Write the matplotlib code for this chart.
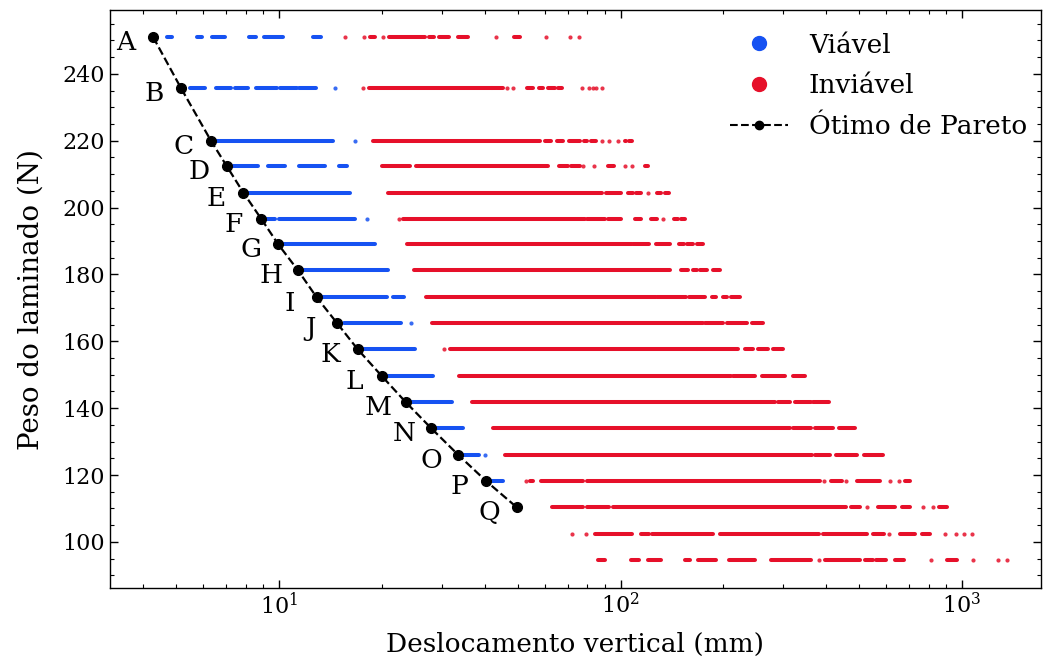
import matplotlib
matplotlib.use('Agg')
import matplotlib.pyplot as plt
from matplotlib.lines import Line2D
from matplotlib.ticker import MultipleLocator

plt.rcParams['font.family'] = 'DejaVu Serif'
plt.rcParams['mathtext.fontset'] = 'dejavuserif'
plt.rcParams['font.size'] = 14

# peso de cada nivel de laminado (N)
peso_linhas = [251.0, 235.8, 220.0, 212.5, 204.5, 196.7, 189.0, 181.2, 173.1, 165.4,
               157.6, 149.6, 141.8, 134.0, 126.0, 118.2, 110.4, 102.4, 94.6]

# trechos (inicio, fim) de deslocamento em mm ocupados pelas solucoes de cada nivel
viavel_trechos = [
    [(4.70, 4.86), (5.75, 5.95), (6.36, 6.94), (8.17, 8.56), (9.04, 10.27), (12.6, 13.3)],
    [(5.49, 6.07), (6.54, 7.24), (7.44, 8.11), (8.56, 9.87), (10.1, 11.3), (11.44, 12.8), (14.6, 14.6)],
    [(6.45, 14.4), (16.7, 16.7)],
    [(7.33, 8.66), (9.28, 10.4), (11.44, 13.6), (15.0, 15.8)],
    [(7.9, 16.1)],
    [(8.98, 9.74), (10.0, 16.7), (18.1, 18.1)],
    [(10.3, 19.1)],
    [(11.7, 20.9)],
    [(13.4, 20.7), (21.6, 23.2)],
    [(15.5, 22.8), (24.4, 24.4)],
    [(17.6, 25.0)],
    [(20.4, 28.2)],
    [(24.2, 32.1)],
    [(28.2, 34.6)],
    [(34.4, 38.5), (40.2, 40.2)],
    [(41.5, 45.3)],
    [],
    [],
    [],
]

inviavel_trechos = [
    [(15.6, 15.6), (17.7, 17.7), (18.5, 19.1), (20.2, 20.2), (21.0, 26.8), (27.5, 28.4),
     (29.4, 31.4), (33.5, 35.8), (43.1, 43.1), (48.9, 50.8), (60.4, 60.4), (71.3, 71.3), (75.6, 75.6)],
    [(17.6, 17.6), (18.3, 42.0), (42.0, 45.3), (46.6, 46.6), (48.3, 48.3), (53.2, 55.4), (57.7, 59.3),
     (61.4, 64.4), (65.7, 67.4), (77.2, 77.2), (80.7, 80.7), (82.9, 82.9), (85.0, 85.0), (88.3, 88.3)],
    [(18.8, 58.1), (60.2, 62.5), (65.0, 67.9), (70.6, 76.0), (78.0, 80.0), (82.0, 85.0),
     (88.3, 88.3), (92.6, 92.6), (98.0, 98.0), (103, 104), (106, 108)],
    [(20.0, 24.2), (25.2, 61.4), (66.2, 70.0), (71.5, 76.1), (77.7, 77.7), (83.5, 83.5),
     (91.9, 95.9), (103, 103), (108, 108), (118, 120)],
    [(20.8, 88.3), (90.5, 100.6), (105, 109), (111, 114.5), (120, 120), (128, 131), (135, 139)],
    [(22.4, 22.4), (23.1, 78.6), (80, 90), (92, 100), (110, 115), (123, 128), (133, 133),
     (143, 147), (150, 154)],
    [(23.7, 108), (109, 121), (127, 140), (148, 153), (157, 163), (167, 174)],
    [(24.8, 140), (150, 158), (163, 167), (171, 179), (186, 196)],
    [(26.9, 127), (128, 155), (159, 177), (185, 191), (199, 205), (210, 224)],
    [(28.0, 155), (156, 174), (177, 199), (205, 235), (242, 262)],
    [(30.4, 30.4), (31.6, 167), (168, 221), (232, 244), (253, 270), (280, 300)],
    [(33.7, 210), (213, 247), (259, 304), (320, 347)],
    [(36.7, 257), (257, 283), (290, 314), (325, 362), (367, 409)],
    [(42.4, 314), (320, 360), (372, 420), (437, 485)],
    [(46.0, 364), (372, 411), (428, 492), (515, 588)],
    [(53, 53), (54.3, 55.6), (58.5, 77.7), (79.7, 385), (393, 393), (412, 446), (456, 456),
     (492, 576), (616, 616), (653, 653), (683, 705)],
    [(63.0, 77.7), (79.7, 92.6), (95.3, 456), (472, 503), (527, 527), (568, 635), (667, 705),
     (770, 770), (820, 820), (859, 902)],
    [(72.1, 72.1), (79.1, 79.1), (84.3, 108), (115, 121), (124, 187), (196, 380), (391, 527),
     (548, 591), (611, 611), (659, 728), (763, 806), (890, 890), (957, 957), (1015, 1015), (1070, 1070)],
    [(85.9, 90.0), (107, 113), (120, 131), (154, 160), (169, 191), (208, 248), (276, 362),
     (380, 380), (397, 503), (521, 548), (558, 597), (638, 674), (812, 812), (905, 968),
     (1078, 1078), (1274, 1274), (1354, 1354)],
]

# fronteira de Pareto
pareto_letras = list('ABCDEFGHIJKLMNOPQ')
pareto_desloc = [4.28, 5.16, 6.32, 7.02, 7.86, 8.86, 9.95, 11.37, 12.9, 14.8,
                 17.0, 20.0, 23.5, 27.9, 33.5, 40.4, 49.6]
pareto_peso = peso_linhas[:17]

azul = '#1652F2'
vermelho = '#E6102A'

fig = plt.figure(figsize=(10.43, 6.61), dpi=100)
ax = fig.add_axes([110 / 1043, 73 / 661, 931 / 1043, 578 / 661])


def desenha(trechos, cor):
    for peso, linha in zip(peso_linhas, trechos):
        pontos = []
        for ini, fim in linha:
            if fim > ini:
                ax.plot([ini, fim], [peso, peso], color=cor, lw=2.9,
                        solid_capstyle='round', zorder=2)
            else:
                pontos.append(ini)
        if pontos:
            ax.scatter(pontos, [peso] * len(pontos), s=9, color=cor,
                       alpha=0.85, linewidths=0, zorder=2)


desenha(viavel_trechos, azul)
desenha(inviavel_trechos, vermelho)

ax.plot(pareto_desloc, pareto_peso, 'k--', marker='o', ms=7, lw=1.6, zorder=5)
for letra, x, y in zip(pareto_letras, pareto_desloc, pareto_peso):
    ax.annotate(letra, (x, y), xytext=(-19.5, -4), textcoords='offset points',
                ha='center', va='center', fontsize=19)

ax.set_xscale('log')
ax.set_xlim(3.2, 1703)
ax.set_ylim(86.2, 259.1)
ax.yaxis.set_major_locator(MultipleLocator(20))
ax.yaxis.set_minor_locator(MultipleLocator(5))
ax.tick_params(which='both', direction='in', top=True, right=True, labelsize=16)
ax.tick_params(which='major', length=6, width=1)
ax.tick_params(which='minor', length=3, width=0.8)
for s in ax.spines.values():
    s.set_linewidth(1.0)

ax.set_xlabel('Deslocamento vertical (mm)', fontsize=19, labelpad=9)
ax.set_ylabel('Peso do laminado (N)', fontsize=20, labelpad=13)

handles = [
    Line2D([], [], ls='none', marker='o', color=azul, markersize=10),
    Line2D([], [], ls='none', marker='o', color=vermelho, markersize=10),
    Line2D([], [], ls='--', color='k', marker='o', markersize=6, lw=1.5),
]
ax.legend(handles, ['Viável', 'Inviável', 'Ótimo de Pareto'], loc='upper right',
          bbox_to_anchor=(1.005, 0.993), frameon=False, fontsize=19,
          handlelength=2.2, labelspacing=0.6, borderaxespad=0.3)

fig.savefig('out.png', dpi=100)
